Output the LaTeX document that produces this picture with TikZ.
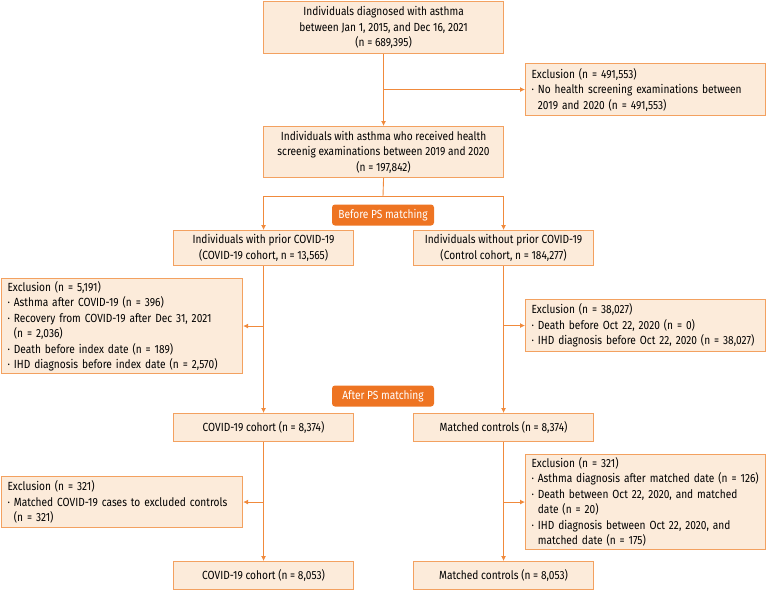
\documentclass[tikz,border=0pt]{standalone}
\usepackage{fontspec}
\setmainfont{Fira Sans}[FakeStretch=0.86]
\usetikzlibrary{arrows.meta}
\definecolor{boxfill}{HTML}{FCEBDA}
\definecolor{boxline}{HTML}{F3A160}
\definecolor{lineclr}{HTML}{F08A3C}
\definecolor{tagfill}{HTML}{EE7422}
\newcommand{\hang}{\hphantom{· }}
\tikzset{
  box/.style={draw=boxline, fill=boxfill, line width=1.1pt, inner sep=0pt, align=center, anchor=north west},
  exbox/.style={box, align=left, inner xsep=6pt},
  tag/.style={fill=tagfill, text=white, rounded corners=3pt, inner sep=0pt, minimum width=102pt, minimum height=21pt},
  arr/.style={draw=lineclr, line width=0.9pt, -{Latex[length=5pt,width=5pt]}},
  ln/.style={draw=lineclr, line width=0.9pt}
}
\begin{document}
\begin{tikzpicture}[x=1pt,y=-1pt,font=\fontsize{11.8}{15.5}\selectfont]
\useasboundingbox (0,0) rectangle (767,589);
% screening steps
\node[box, minimum width=240pt, minimum height=52pt] (all) at (263,1) {Individuals diagnosed with asthma\\between Jan 1, 2015, and Dec 16, 2021\\(n = 689,395)};
\node[exbox, text width=228pt, minimum height=52pt] (ex1) at (525,63) {Exclusion (n = 491,553)\\· No health screening examinations between\\\hang 2019 and 2020 (n = 491,553)};
\node[box, minimum width=240pt, minimum height=51pt] (scr) at (263,126) {Individuals with asthma who received health\\screenig examinations between 2019 and 2020\\(n = 197,842)};
\coordinate (split) at (383,196);
\node[tag] (before) at (383,215) {Before PS matching};
% cohorts before matching
\node[box, minimum width=180pt, minimum height=35pt] (cov) at (173,230) {Individuals with prior COVID-19\\(COVID-19 cohort, n = 13,565)};
\node[box, minimum width=180pt, minimum height=35pt] (ctl) at (413,230) {Individuals without prior COVID-19\\(Control cohort, n = 184,277)};
\node[exbox, text width=229pt, minimum height=95pt] (ex2) at (1,278) {Exclusion (n = 5,191)\\· Asthma after COVID-19 (n = 396)\\· Recovery from COVID-19 after Dec 31, 2021\\\hang(n = 2,036)\\· Death before index date (n = 189)\\· IHD diagnosis before index date (n = 2,570)};
\node[exbox, text width=228pt, minimum height=52pt] (ex3) at (525,299) {Exclusion (n = 38,027)\\· Death before Oct 22, 2020 (n = 0)\\· IHD diagnosis before Oct 22, 2020 (n = 38,027)};
\node[tag] (after) at (383,396) {After PS matching};
% matched cohorts
\node[box, minimum width=180pt, minimum height=28pt] (cov2) at (173,413) {COVID-19 cohort (n = 8,374)};
\node[box, minimum width=180pt, minimum height=28pt] (ctl2) at (413,413) {Matched controls (n = 8,374)};
\node[exbox, text width=229pt, minimum height=51pt] (ex4) at (1,476) {Exclusion (n = 321)\\· Matched COVID-19 cases to excluded controls\\\hang(n = 321)};
\node[exbox, text width=228pt, minimum height=95pt] (ex5) at (525,454) {Exclusion (n = 321)\\· Asthma diagnosis after matched date (n = 126)\\· Death between Oct 22, 2020, and matched\\\hang date (n = 20)\\· IHD diagnosis between Oct 22, 2020, and\\\hang matched date (n = 175)};
\node[box, minimum width=180pt, minimum height=28pt] (cov3) at (173,561) {COVID-19 cohort (n = 8,053)};
\node[box, minimum width=180pt, minimum height=28pt] (ctl3) at (413,561) {Matched controls (n = 8,053)};
% connectors
\draw[arr] (all.south) -- (scr.north);
\draw[arr] (ex1.west -| all.south) -- (ex1.west);
\draw[ln] (scr.south) -- (split);
\draw[arr] (split) -| (cov.north);
\draw[arr] (split) -| (ctl.north);
\draw[arr] (cov.south) -- (cov2.north);
\draw[arr] (ctl.south) -- (ctl2.north);
\draw[arr] (ex2.east -| cov.south) -- (ex2.east);
\draw[arr] (ex3.west -| ctl.south) -- (ex3.west);
\draw[arr] (cov2.south) -- (cov3.north);
\draw[arr] (ctl2.south) -- (ctl3.north);
\draw[arr] (ex4.east -| cov2.south) -- (ex4.east);
\draw[arr] (ex5.west -| ctl2.south) -- (ex5.west);
\end{tikzpicture}
\end{document}
